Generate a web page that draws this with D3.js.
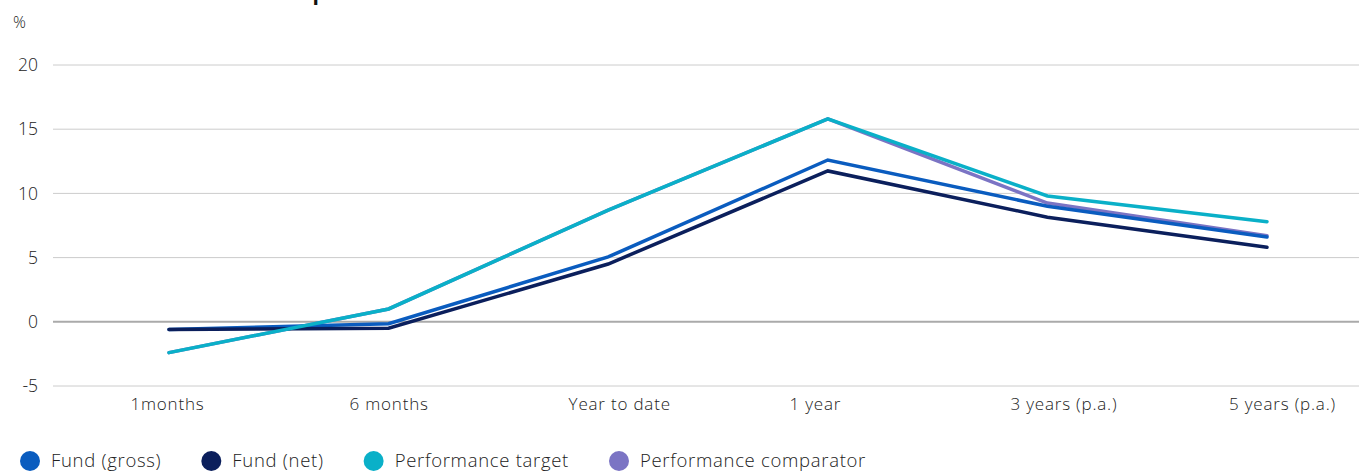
<!DOCTYPE html>
<html><head><meta charset="utf-8">
<script src="https://cdn.jsdelivr.net/npm/d3@7"></script>
<style>
body{margin:0;background:#fff;}
text{font-family:"Open Sans",sans-serif;}
</style></head>
<body><svg id="c" width="1359" height="471"></svg>
<script>
const categories = ["1months","6 months","Year to date","1 year","3 years (p.a.)","5 years (p.a.)"];
const fundGross = [-0.6,-0.15,5.05,12.6,9.0,6.6];
const fundNet = [-0.6,-0.5,4.5,11.75,8.15,5.8];
const perfTarget = [-2.4,1.0,8.7,15.8,9.8,7.8];
const perfComparator = [-2.4,1.0,8.7,15.8,9.25,6.7];
const yTicks = [-5,0,5,10,15,20];
const seriesNames = ["Fund (gross)","Fund (net)","Performance target","Performance comparator"];
const colors = ["#0a5cbf","#0b1f5c","#0ab0c8","#7b74c4"];

// label layout tweak (style only)
const labelShift = [-2,0,11,-13,16,15];

const svg = d3.select("#c");
const x = d3.scalePoint().domain(categories).range([169,1267]);
const y = d3.scaleLinear().domain([-5,20]).range([386,65]);

svg.append("text").attr("x",20).attr("y",0).attr("font-size",21).attr("font-weight",700)
  .attr("fill","#111").text("Cumulative and annualised performance");
svg.append("text").attr("x",13).attr("y",28).attr("font-size",16).attr("font-weight",300).attr("fill","#222").text("%");

const yAxis = svg.append("g").attr("transform","translate(53,0)")
  .call(d3.axisLeft(y).tickValues(yTicks).tickSize(0).tickPadding(15).tickFormat(d=>d<0?"-"+Math.abs(d):d));
yAxis.select(".domain").remove();
yAxis.selectAll("text").attr("font-size",17.5).attr("font-weight",300).attr("fill","#222").style("font-family","'Open Sans',sans-serif");
svg.append("g").selectAll("line").data(yTicks).join("line")
  .attr("x1",53).attr("x2",1359).attr("y1",d=>y(d)).attr("y2",d=>y(d))
  .attr("stroke",d=>d===0?"#aaa":"#ccc").attr("stroke-width",d=>d===0?2:1);

const xAxis = svg.append("g").attr("transform","translate(0,386)")
  .call(d3.axisBottom(x).tickSize(0).tickPadding(12));
xAxis.select(".domain").remove();
xAxis.selectAll("text").attr("font-size",17).attr("font-weight",300).attr("fill","#222")
  .attr("letter-spacing",0.8)
  .style("font-family","'Open Sans',sans-serif").attr("dx",(d,i)=>labelShift[i]);

const line = d3.line().x((d,i)=>x(categories[i])).y(d=>y(d));
const drawOrder = [[perfComparator,3],[fundGross,0],[fundNet,1],[perfTarget,2]];
svg.append("g").selectAll("path").data(drawOrder).join("path")
  .attr("d",d=>line(d[0])).attr("fill","none").attr("stroke",d=>colors[d[1]])
  .attr("stroke-width",3.5).attr("stroke-linecap","round").attr("stroke-linejoin","miter");

const lg = svg.append("g").attr("transform","translate(0,461)");
let cx = 30;
seriesNames.forEach((n,i)=>{
  lg.append("circle").attr("cx",cx).attr("cy",0).attr("r",10).attr("fill",colors[i]);
  const t = lg.append("text").attr("x",cx+21).attr("y",6).attr("font-size",18.5).attr("font-weight",300)
    .attr("letter-spacing",0.7).attr("fill","#222").text(n);
  const w = t.node().getComputedTextLength();
  cx = cx + 21 + w + 50;
});
</script></body></html>
